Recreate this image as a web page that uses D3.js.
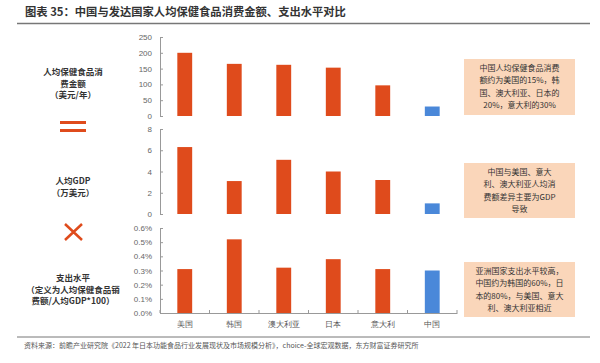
<!DOCTYPE html>
<html>
<head>
<meta charset="utf-8">
<script src="https://cdn.jsdelivr.net/npm/d3@7"></script>
<style>
  body { margin: 0; background: #fff; }
  svg { display: block; font-family: "Noto Sans CJK SC", "Noto Sans", sans-serif; }
</style>
</head>
<body>
<div class="canvas"></div>
<script>
// DATA --------------------------------------------------------------------------
const countries = ['美国', '韩国', '澳大利亚', '日本', '意大利', '中国'];
const spending = [200, 165, 162, 153, 97, 30];          // 美元/年
const gdp = [6.3, 3.1, 5.1, 4.0, 3.2, 1.0];             // 万美元
const ratio = [0.31, 0.52, 0.32, 0.38, 0.31, 0.30];     // %
const spendingTicks = [0, 50, 100, 150, 200, 250];
const gdpTicks = [0, 2, 4, 6, 8];
const ratioTicks = [0, 0.1, 0.2, 0.3, 0.4, 0.5, 0.6];

const orange = '#DF4B1C';
const blue = '#4A88D9';
const peach = '#FAD6BA';

// SET UP SVG --------------------------------------------------------------------
const svg = d3.select('.canvas')
    .append('svg')
        .attr('width', 600)
        .attr('height', 363);

// Title + rules
svg.append('text')
    .attr('x', 25)
    .attr('y', 16)
    .text('图表 35：中国与发达国家人均保健食品消费金额、支出水平对比')
    .style('font-size', '11.3px')
    .style('font-weight', 700)
    .attr('fill', '#333');

svg.append('line')
    .attr('x1', 17).attr('x2', 590)
    .attr('y1', 23.5).attr('y2', 23.5)
    .attr('stroke', '#777')
    .attr('stroke-width', 1.5);

svg.append('line')
    .attr('x1', 17).attr('x2', 590)
    .attr('y1', 337).attr('y2', 337)
    .attr('stroke', '#777')
    .attr('stroke-width', 1);

svg.append('text')
    .attr('x', 24)
    .attr('y', 348)
    .text('资料来源：前瞻产业研究院《2022 年日本功能食品行业发展现状及市场规模分析》，choice-全球宏观数据，东方财富证券研究所')
    .style('font-size', '7px')
    .attr('fill', '#555');

// Shared x scale
const x = d3.scaleBand()
    .domain(countries)
    .range([160, 457])
    .paddingInner(0.7)
    .paddingOuter(0.35);

// PANELS ------------------------------------------------------------------------
const panels = [
    { values: spending, ticks: spendingTicks, max: 250, top: 37, bottom: 116, fmt: d => d },
    { values: gdp, ticks: gdpTicks, max: 8, top: 129, bottom: 214, fmt: d => d },
    { values: ratio, ticks: ratioTicks, max: 0.6, top: 228, bottom: 313, fmt: d => d3.format('.1f')(d) + '%' }
];

panels.forEach((p, i) => {
    const y = d3.scaleLinear()
        .domain([0, p.max])
        .range([p.bottom, p.top]);

    const yAxis = d3.axisLeft(y)
        .tickValues(p.ticks)
        .tickFormat(p.fmt)
        .tickSizeInner(-3)
        .tickSizeOuter(0)
        .tickPadding(8);

    const g = svg.append('g')
        .attr('transform', 'translate(160,0)')
        .call(yAxis);
    g.select('.domain').attr('stroke', '#999');
    g.selectAll('.tick line').attr('stroke', '#999');
    g.selectAll('text')
        .attr('fill', '#666')
        .style('font-family', 'Arial, "Liberation Sans", sans-serif')
        .style('font-size', '8px');

    svg.append('g').selectAll('rect')
        .data(p.values)
        .enter()
        .append('rect')
        .attr('x', (d, j) => x(countries[j]))
        .attr('width', x.bandwidth())
        .attr('y', d => y(d))
        .attr('height', d => p.bottom - y(d))
        .attr('fill', (d, j) => countries[j] === '中国' ? blue : orange);

    if (i === 2) {
        // Category axis with ticks between bands
        const xAxis = d3.axisBottom(x).tickSize(0).tickPadding(8);
        const xg = svg.append('g')
            .attr('transform', `translate(0,${p.bottom})`)
            .call(xAxis);
        xg.select('.domain').attr('stroke', '#999');
        xg.selectAll('text')
            .attr('fill', '#555')
            .style('font-size', '8px');
        const step = x.step();
        xg.selectAll('.sep')
            .data(d3.range(countries.length + 1))
            .enter()
            .append('line')
            .attr('x1', d => 160 + d * step)
            .attr('x2', d => 160 + d * step)
            .attr('y1', 0).attr('y2', -3)
            .attr('stroke', '#999');
    }
});

// LEFT LABELS -------------------------------------------------------------------
const leftLabel = (lines, y0) => {
    svg.append('g').selectAll('text')
        .data(lines)
        .enter()
        .append('text')
        .attr('x', 73)
        .attr('y', (d, k) => y0 + k * 11.5)
        .attr('text-anchor', 'middle')
        .text(d => d)
        .style('font-size', '8.5px')
        .style('font-weight', 700)
        .attr('fill', '#333');
};
leftLabel(['人均保健食品消', '费金额', '（美元/年）'], 75);
leftLabel(['人均GDP', '（万美元）'], 184);
leftLabel(['支出水平', '（定义为人均保健食品销', '费额/人均GDP*100）'], 281);

// "=" sign
[121, 129].forEach(yy => {
    svg.append('rect')
        .attr('x', 60).attr('y', yy)
        .attr('width', 26).attr('height', 3)
        .attr('fill', orange);
});
// "×" sign
svg.append('path')
    .attr('d', 'M65,224 L82,240 M82,224 L65,240')
    .attr('stroke', orange)
    .attr('stroke-width', 2.5);

// NOTE BOXES --------------------------------------------------------------------
const notes = [
    { y: 59, h: 56, lines: ['中国人均保健食品消费', '额约为美国的15%，韩', '国、澳大利亚、日本的', '20%，意大利的30%'] },
    { y: 163, h: 55, lines: ['中国与美国、意大', '利、澳大利亚人均消', '费额差异主要为GDP', '导致'] },
    { y: 262, h: 55, lines: ['亚洲国家支出水平较高，', '中国约为韩国的60%，日', '本的80%，与美国、意大', '利、澳大利亚相近'] }
];

notes.forEach(n => {
    svg.append('rect')
        .attr('x', 464).attr('y', n.y)
        .attr('width', 111).attr('height', n.h)
        .attr('fill', peach);
    svg.append('g').selectAll('text')
        .data(n.lines)
        .enter()
        .append('text')
        .attr('x', 519.5)
        .attr('y', (d, k) => n.y + 12 + k * 12.3)
        .attr('text-anchor', 'middle')
        .text(d => d)
        .style('font-size', '8px')
        .attr('fill', '#333');
});
</script>
</body>
</html>
